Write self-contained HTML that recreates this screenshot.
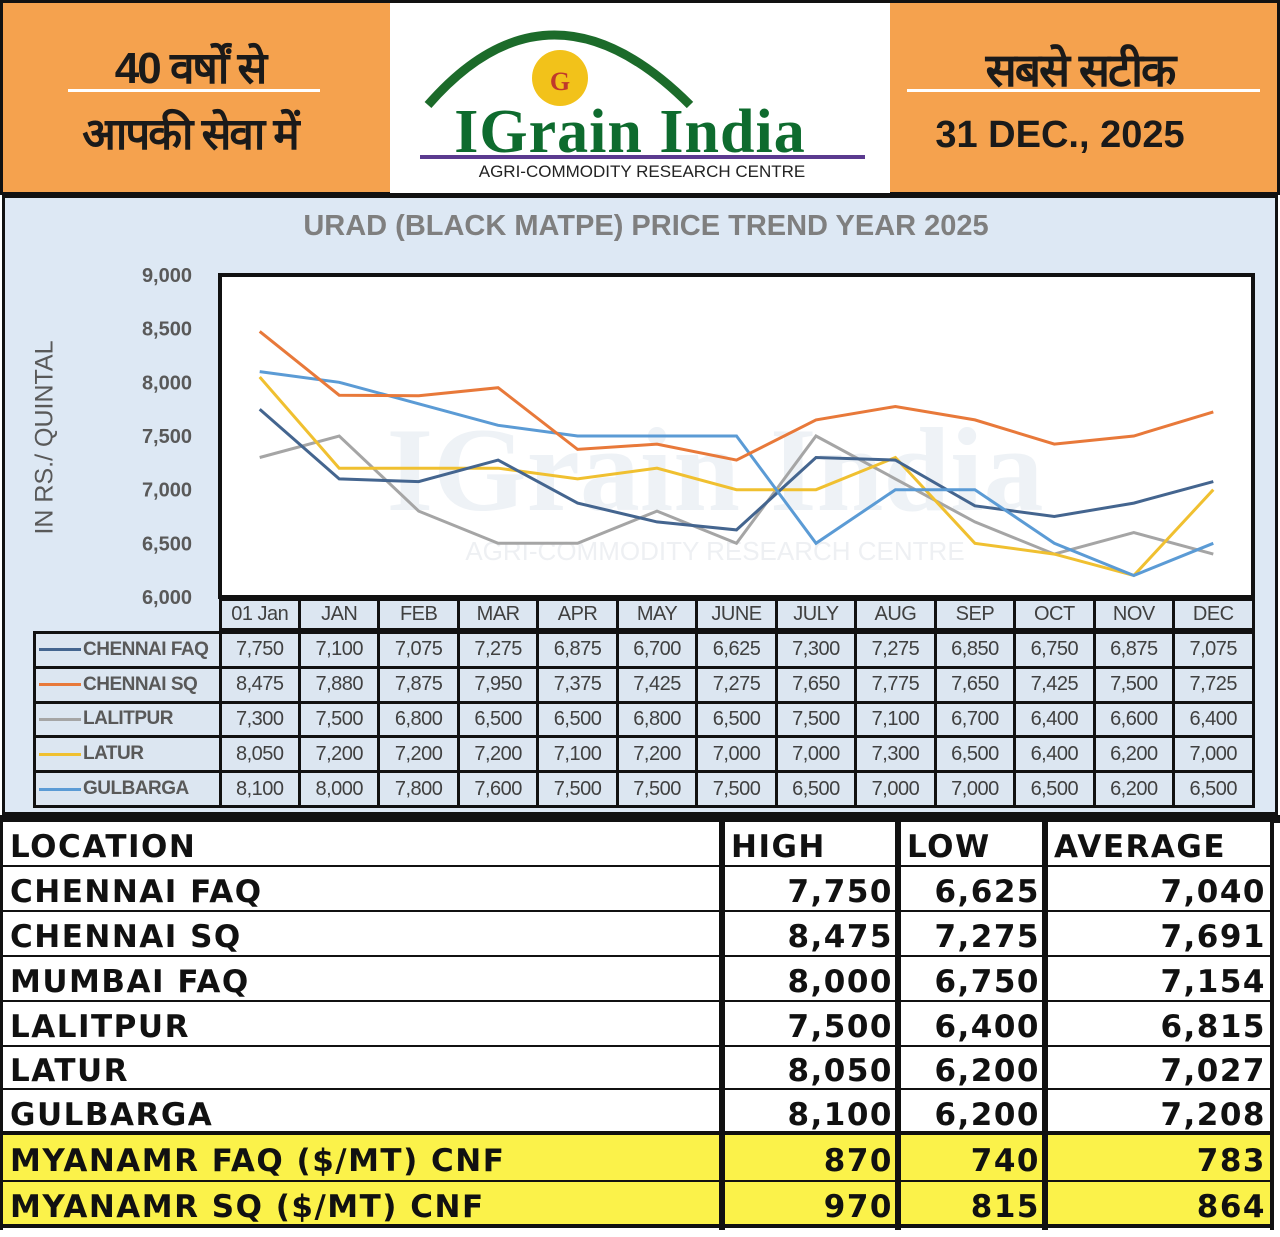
<!DOCTYPE html>
<html><head><meta charset="utf-8">
<style>
body{margin:0;width:1280px;height:1237px;position:relative;background:#fff;overflow:hidden;font-family:"Liberation Sans",sans-serif}
.a{position:absolute;box-sizing:border-box}
.hi{font-family:"Liberation Sans","Noto Sans CJK SC",sans-serif;font-weight:bold;color:#1a1a1a;text-align:center}
.c{position:absolute;box-sizing:border-box;background:#dce6f1;border:3px solid #111;font-size:20px;color:#404040;display:flex;align-items:center;justify-content:center;font-family:"Liberation Sans",sans-serif;letter-spacing:-0.5px}
.t{position:absolute;box-sizing:border-box;font-weight:bold;font-size:31px;color:#111;letter-spacing:1.5px;font-family:"DejaVu Sans","Liberation Sans",sans-serif;display:flex;align-items:center}
</style></head><body>
<div class="a" style="left:0;top:0;width:1280px;height:195px;background:#f5a24e;border:3px solid #111"></div>
<div class="a" style="left:390px;top:3px;width:500px;height:190px;background:#fff"></div>
<div class="a hi" style="left:60px;top:36px;width:260px;font-size:44px;letter-spacing:-2px">40 वर्षों से</div>
<div class="a" style="left:68px;top:89px;width:252px;height:3px;background:#fff"></div>
<div class="a hi" style="left:50px;top:102px;width:280px;font-size:44px;letter-spacing:-2px">आपकी सेवा में</div>
<div class="a hi" style="left:930px;top:38px;width:300px;font-size:46px;letter-spacing:-2px">सबसे सटीक</div>
<div class="a" style="left:907px;top:89px;width:353px;height:3px;background:#fff"></div>
<div class="a hi" style="left:910px;top:114px;width:300px;font-size:38px">31 DEC., 2025</div>
<svg class="a" style="left:390px;top:0" width="500" height="195">
<path d="M38 105 Q 160 -35 300 105" fill="none" stroke="#1c6b2a" stroke-width="9"/>
<circle cx="170" cy="78" r="28" fill="#f2c21a"/>
<text x="170" y="90" font-size="26" font-weight="bold" fill="#c0392b" text-anchor="middle" font-family="Liberation Serif">G</text>
<text x="240" y="152" font-size="62" font-weight="bold" fill="#0e6b2e" text-anchor="middle" font-family="Liberation Serif" letter-spacing="1">IGrain India</text>
<rect x="30" y="155" width="445" height="4" fill="#5b3a8f"/>
<text x="252" y="177" font-size="17" fill="#222" text-anchor="middle" font-family="Liberation Sans">AGRI-COMMODITY RESEARCH CENTRE</text>
</svg>
<div class="a" style="left:2px;top:195px;width:1276px;height:620px;background:#dde8f4;border:3px solid #111"></div>
<div class="a" style="left:0;top:210px;width:1276px;text-align:center;font-size:29px;font-weight:bold;color:#7f7f7f;padding-left:16px">URAD (BLACK MATPE) PRICE TREND YEAR 2025</div>
<div class="a" style="left:-60px;top:423px;width:210px;text-align:center;transform:rotate(-90deg);font-size:25px;color:#595959">IN RS./ QUINTAL</div>
<div id="chart"></div>
<div id="bt"></div>
<script>
var cols=["01 Jan","JAN","FEB","MAR","APR","MAY","JUNE","JULY","AUG","SEP","OCT","NOV","DEC"];
var S=[["CHENNAI FAQ","#44658f",[7750,7100,7075,7275,6875,6700,6625,7300,7275,6850,6750,6875,7075]],
["CHENNAI SQ","#e8793a",[8475,7880,7875,7950,7375,7425,7275,7650,7775,7650,7425,7500,7725]],
["LALITPUR","#a5a5a5",[7300,7500,6800,6500,6500,6800,6500,7500,7100,6700,6400,6600,6400]],
["LATUR","#f0c030",[8050,7200,7200,7200,7100,7200,7000,7000,7300,6500,6400,6200,7000]],
["GULBARGA","#5b9bd5",[8100,8000,7800,7600,7500,7500,7500,6500,7000,7000,6500,6200,6500]]];
var x0=220,x1=1253,cw=(x1-x0)/13,yT=275,yB=597;
function Y(v){return yB-(v-6000)*(yB-yT)/3000}
function F(v){return (v/1000|0)+','+String(v%1000).padStart(3,'0')}
var h='';
var svg='<svg class="a" style="left:0;top:0" width="1280" height="812">';
svg+='<rect x="'+x0+'" y="'+yT+'" width="'+(x1-x0)+'" height="'+(yB-yT)+'" fill="#fff" stroke="#111" stroke-width="4"/>';
svg+='<text x="715" y="510" font-size="120" font-weight="bold" fill="#eef2f6" text-anchor="middle" font-family="Liberation Serif">IGrain India</text>';
svg+='<text x="715" y="560" font-size="26" fill="#eef0f3" text-anchor="middle">AGRI-COMMODITY RESEARCH CENTRE</text>';
for(var v=6000;v<=9000;v+=500){svg+='<text x="192" y="'+(Y(v)+7)+'" font-size="20" font-weight="bold" fill="#595959" text-anchor="end">'+F(v)+'</text>';}
[2,3,0,4,1].forEach(function(i){var s=S[i];var p=s[2].map(function(v,j){return (x0+cw*(j+0.5)).toFixed(1)+','+Y(v).toFixed(1)}).join(' ');
svg+='<polyline points="'+p+'" fill="none" stroke="'+s[1]+'" stroke-width="3"/>';});
svg+='</svg>';
h+=svg;
for(var j=0;j<13;j++){h+='<div class="c" style="left:'+(x0+cw*j-1.5).toFixed(1)+'px;top:598px;width:'+(cw+3).toFixed(1)+'px;height:33px">'+cols[j]+'</div>';}
for(var i=0;i<5;i++){var ty=(631+i*34.8).toFixed(1);
h+='<div class="c" style="left:33px;top:'+ty+'px;width:189px;height:37.8px;justify-content:flex-start;font-weight:bold;font-size:19px;color:#595959"><span style="display:inline-block;width:42px;height:3px;background:'+S[i][1]+';margin:0 2px 0 3px"></span>'+S[i][0]+'</div>';
for(var j=0;j<13;j++){h+='<div class="c" style="left:'+(x0+cw*j-1.5).toFixed(1)+'px;top:'+ty+'px;width:'+(cw+3).toFixed(1)+'px;height:37.8px">'+F(S[i][2][j])+'</div>';}}
document.getElementById('chart').innerHTML=h;
var R=[["LOCATION","HIGH","LOW","AVERAGE"],["CHENNAI FAQ","7,750","6,625","7,040"],["CHENNAI SQ","8,475","7,275","7,691"],["MUMBAI FAQ","8,000","6,750","7,154"],["LALITPUR","7,500","6,400","6,815"],["LATUR","8,050","6,200","7,027"],["GULBARGA","8,100","6,200","7,208"],["MYANAMR FAQ ($/MT) CNF","870","740","783"],["MYANAMR SQ ($/MT) CNF","970","815","864"]];
var ry=[822,867,912,957,1002,1047,1090,1135,1182,1228];
var cx=[2,723,899,1046,1272];
var b='<div class="a" style="left:0;top:815px;width:1280px;height:8px;background:#111"></div>';
for(var r=0;r<9;r++){var yl=r>=7;
b+='<div class="a" style="left:2px;top:'+ry[r]+'px;width:1270px;height:'+(ry[r+1]-ry[r])+'px;background:'+(yl?'#fbf24a':'#fff')+';border-bottom:'+(r==6||r==8?4:2)+'px solid #111"></div>';
for(var c=0;c<4;c++){var right=(r>0&&c>0);
b+='<div class="t" style="left:'+(cx[c]+8)+'px;top:'+(ry[r]+2)+'px;width:'+(cx[c+1]-cx[c]-14)+'px;height:'+(ry[r+1]-ry[r])+'px;justify-content:'+(right?'flex-end':'flex-start')+'">'+R[r][c]+'</div>';}}
[722,898,1045].forEach(function(x){b+='<div class="a" style="left:'+(x-3)+'px;top:822px;width:6px;height:408px;background:#111"></div>';});
b+='<div class="a" style="left:1270px;top:822px;width:4px;height:408px;background:#111"></div>';
b+='<div class="a" style="left:0;top:822px;width:3px;height:408px;background:#111"></div>';
document.getElementById('bt').innerHTML=b;
</script>
</body></html>
